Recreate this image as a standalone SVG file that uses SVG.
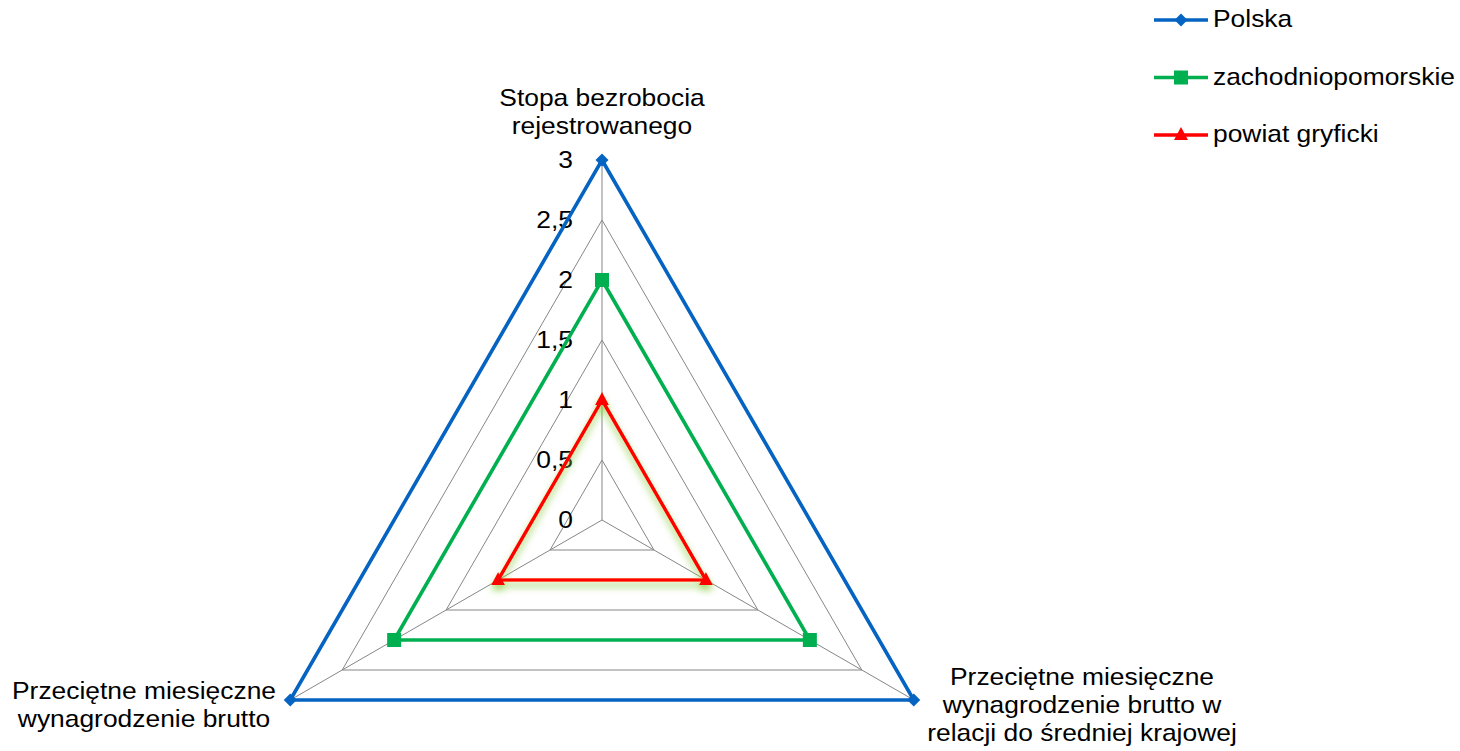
<svg xmlns="http://www.w3.org/2000/svg" width="1460" height="751" viewBox="0 0 1460 751">
<style>
text{font-family:"Liberation Sans",Arial,sans-serif;font-size:24px;fill:#000}
.grid{fill:none;stroke:#868686;stroke-width:1}
.s{fill:none;stroke-width:3.6;stroke-linejoin:miter}
</style>
<defs>
<filter id="glow" x="-20%" y="-20%" width="140%" height="150%">
<feGaussianBlur in="SourceAlpha" stdDeviation="3.5"/>
<feOffset dy="5" result="b"/>
<feFlood flood-color="#92D050" flood-opacity="0.9"/>
<feComposite in2="b" operator="in" result="sh"/>
<feMerge><feMergeNode in="sh"/><feMergeNode in="SourceGraphic"/></feMerge>
</filter>
<path id="dia" d="M0,-6.5 L6.5,0 L0,6.5 L-6.5,0Z" fill="#0563C1"/>
<rect id="sq" x="-7" y="-7" width="14" height="14" fill="#00B050"/>
<path id="tri" d="M0,-8 L7,5 L-7,5Z" fill="#FF0000"/>
</defs>
<rect width="1460" height="751" fill="#fff"/>
<g id="grid">
<polygon class="grid" points="602,460 550.04,550 653.96,550"/>
<polygon class="grid" points="602,400 498.08,580 705.92,580"/>
<polygon class="grid" points="602,340 446.12,610 757.88,610"/>
<polygon class="grid" points="602,280 394.15,640 809.85,640"/>
<polygon class="grid" points="602,220 342.19,670 861.81,670"/>
<polygon class="grid" points="602,160 290.23,700 913.77,700"/>
<line class="grid" x1="602" y1="520" x2="602" y2="160" stroke-width="1.5"/>
<line class="grid" x1="602" y1="520" x2="290.23" y2="700"/>
<line class="grid" x1="602" y1="520" x2="913.77" y2="700"/>
</g>
<g id="axis-labels">
<text transform="translate(573,168) scale(1.1,1)" text-anchor="end">3</text>
<text transform="translate(573,228) scale(1.1,1)" text-anchor="end">2,5</text>
<text transform="translate(573,288) scale(1.1,1)" text-anchor="end">2</text>
<text transform="translate(573,348) scale(1.1,1)" text-anchor="end">1,5</text>
<text transform="translate(573,408) scale(1.1,1)" text-anchor="end">1</text>
<text transform="translate(573,468) scale(1.1,1)" text-anchor="end">0,5</text>
<text transform="translate(573,528) scale(1.1,1)" text-anchor="end">0</text>
</g>
<g id="category-labels">
<text transform="translate(602,106) scale(1.1,1)" text-anchor="middle">Stopa bezrobocia</text>
<text transform="translate(602,134) scale(1.1,1)" text-anchor="middle">rejestrowanego</text>
<text transform="translate(144,699) scale(1.1,1)" text-anchor="middle">Przeciętne miesięczne</text>
<text transform="translate(144,727) scale(1.1,1)" text-anchor="middle">wynagrodzenie brutto</text>
<text transform="translate(1082,685) scale(1.1,1)" text-anchor="middle">Przeciętne miesięczne</text>
<text transform="translate(1082,713) scale(1.1,1)" text-anchor="middle">wynagrodzenie brutto w</text>
<text transform="translate(1082,741) scale(1.1,1)" text-anchor="middle">relacji do średniej krajowej</text>
</g>
<g id="series-polska">
<polygon class="s" stroke="#0563C1" points="602,160 913.77,700 290.23,700"/>
<use href="#dia" x="602" y="160"/>
<use href="#dia" x="913.77" y="700"/>
<use href="#dia" x="290.23" y="700"/>
</g>
<g id="series-zachodniopomorskie">
<polygon class="s" stroke="#00B050" points="602,280 809.85,640 394.15,640"/>
<use href="#sq" x="602" y="280"/>
<use href="#sq" x="809.85" y="640"/>
<use href="#sq" x="394.15" y="640"/>
</g>
<g id="series-powiat-gryficki" filter="url(#glow)">
<polygon class="s" stroke="#FF0000" points="602,400 705.92,580 498.08,580"/>
<use href="#tri" x="602" y="400"/>
<use href="#tri" x="705.92" y="580"/>
<use href="#tri" x="498.08" y="580"/>
</g>
<g id="legend">
<line x1="1154" y1="20" x2="1208" y2="20" stroke="#0563C1" stroke-width="3.6"/>
<use href="#dia" x="1181" y="20"/>
<text transform="translate(1213,27) scale(1.1,1)">Polska</text>
<line x1="1154" y1="77.5" x2="1208" y2="77.5" stroke="#00B050" stroke-width="3.6"/>
<use href="#sq" x="1181" y="77.5"/>
<text transform="translate(1213,85) scale(1.1,1)">zachodniopomorskie</text>
<line x1="1154" y1="135" x2="1208" y2="135" stroke="#FF0000" stroke-width="3.6"/>
<use href="#tri" x="1181" y="135"/>
<text transform="translate(1213,142) scale(1.1,1)">powiat gryficki</text>
</g>
</svg>
